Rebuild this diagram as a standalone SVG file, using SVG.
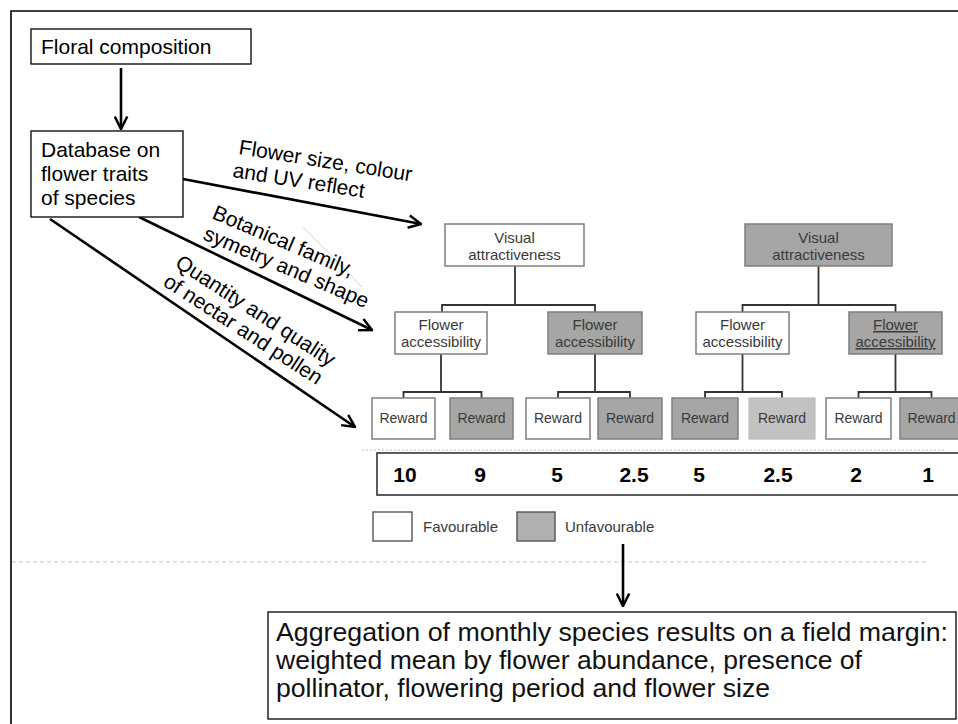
<svg xmlns="http://www.w3.org/2000/svg" width="958" height="724" viewBox="0 0 958 724">
<defs>
<style>
.lbl{font-family:"Liberation Sans",Arial,sans-serif;fill:#000}
.big{font-size:21px}
.agg{font-family:"Liberation Sans Narrow","Liberation Sans",Arial,sans-serif;font-size:25px;fill:#111}
.nd{font-family:"Liberation Sans",Arial,sans-serif;font-size:15px;fill:#3a3a3a;text-anchor:middle}
.rw{font-size:14px}
.num{font-family:"Liberation Sans",Arial,sans-serif;font-size:21px;font-weight:bold;fill:#000;text-anchor:middle}
.w{fill:#fff;stroke:#7f7f7f;stroke-width:1.5}
.g{fill:#a6a6a6;stroke:#7f7f7f;stroke-width:1.5}
.gl{fill:#c2c2c2;stroke:#bdbdbd;stroke-width:1.2}
.box{fill:#fff;stroke:#000;stroke-width:1.3}
.tree{fill:none;stroke:#333;stroke-width:1.8}
.arr{fill:none;stroke:#000;stroke-width:2.6}
</style>
<marker id="ah" viewBox="0 0 12 12" refX="11" refY="6" markerWidth="15" markerHeight="15" markerUnits="userSpaceOnUse" orient="auto">
<path d="M1,1 L11,6 L1,11" fill="none" stroke="#000" stroke-width="2"/>
</marker>
</defs>
<rect width="958" height="724" fill="#fff"/>
<path d="M11,724 V11 H958" fill="none" stroke="#000" stroke-width="1.6"/>
<line x1="12" y1="562" x2="928" y2="562" stroke="#a9cdd3" stroke-width="1" stroke-dasharray="4 3"/>
<line x1="362" y1="450" x2="945" y2="450" stroke="#bdbdbd" stroke-width="1" stroke-dasharray="2 2"/>

<g id="connectors">
<line class="arr" x1="121" y1="68" x2="121" y2="129" marker-end="url(#ah)"/>
<line class="arr" x1="183" y1="179" x2="421" y2="224" marker-end="url(#ah)"/>
<line class="arr" x1="139" y1="217" x2="372" y2="330" marker-end="url(#ah)"/>
<line class="arr" x1="50" y1="219" x2="355" y2="427" marker-end="url(#ah)"/>
<line x1="303" y1="227" x2="362" y2="287" stroke="#d6d6d6" stroke-width="1"/>
<line class="arr" x1="623" y1="544" x2="623" y2="606" stroke-width="2" marker-end="url(#ah)"/>
<path class="tree" d="M515,266 V305 M442,312 V305 H595 V312 M441,354 V392 M403.5,398 V392 H481.5 V398 M595,354 V392 M558,398 V392 H630 V398"/>
<path class="tree" d="M818.5,266 V305 M742.5,312 V305 H895.5 V312 M742.5,354 V392 M705,398 V392 H782 V398 M895.5,354 V392 M858.5,398 V392 H931.5 V398"/>
</g>

<g id="floral">
<rect class="box" x="31" y="29" width="220" height="35"/>
<text class="lbl big" x="41" y="54">Floral composition</text>
</g>
<g id="database">
<rect class="box" x="31" y="131" width="152" height="86"/>
<text class="lbl big" x="41" y="157">Database on</text>
<text class="lbl big" x="41" y="181">flower traits</text>
<text class="lbl big" x="41" y="205">of species</text>
</g>

<g id="labels">
<text class="lbl big" x="238" y="154" transform="rotate(9 238 154)">Flower size, colour</text>
<text class="lbl big" x="232" y="177" transform="rotate(9 232 177)">and UV reflect</text>
<text class="lbl big" x="211" y="218" transform="rotate(23 211 218)">Botanical family,</text>
<text class="lbl big" x="202" y="239" transform="rotate(23 202 239)">symetry and shape</text>
<text class="lbl big" x="174" y="266" transform="rotate(33 174 266)">Quantity and quality</text>
<text class="lbl big" x="162" y="285" transform="rotate(33 162 285)">of nectar and pollen</text>
</g>

<g id="va1">
<rect class="w" x="445" y="224" width="139" height="42"/>
<text class="nd" x="514.5" y="243">Visual</text>
<text class="nd" x="514.5" y="260">attractiveness</text>
</g>
<g id="va2">
<rect class="g" x="745" y="224" width="147" height="42"/>
<text class="nd" x="818.5" y="243">Visual</text>
<text class="nd" x="818.5" y="260">attractiveness</text>
</g>
<g id="fa1">
<rect class="w" x="395" y="312" width="92" height="42"/>
<text class="nd" x="441" y="330">Flower</text>
<text class="nd" x="441" y="347">accessibility</text>
</g>
<g id="fa2">
<rect class="g" x="548" y="312" width="94" height="42"/>
<text class="nd" x="595" y="330">Flower</text>
<text class="nd" x="595" y="347">accessibility</text>
</g>
<g id="fa3">
<rect class="w" x="696" y="312" width="93" height="42"/>
<text class="nd" x="742.5" y="330">Flower</text>
<text class="nd" x="742.5" y="347">accessibility</text>
</g>
<g id="fa4">
<rect class="g" x="849" y="312" width="93" height="42"/>
<text class="nd" x="895.5" y="330" text-decoration="underline">Flower</text>
<text class="nd" x="895.5" y="347" text-decoration="underline">accessibility</text>
</g>

<g id="r1"><rect class="w" x="372" y="398" width="63" height="41"/><text class="nd rw" x="403.5" y="423">Reward</text></g>
<g id="r2"><rect class="g" x="450" y="398" width="63" height="41"/><text class="nd rw" x="481.5" y="423">Reward</text></g>
<g id="r3"><rect class="w" x="526" y="398" width="64" height="41"/><text class="nd rw" x="558" y="423">Reward</text></g>
<g id="r4"><rect class="g" x="598" y="398" width="64" height="41"/><text class="nd rw" x="630" y="423">Reward</text></g>
<g id="r5"><rect class="g" x="672" y="398" width="66" height="41"/><text class="nd rw" x="705" y="423">Reward</text></g>
<g id="r6"><rect class="gl" x="749" y="398" width="66" height="41"/><text class="nd rw" x="782" y="423">Reward</text></g>
<g id="r7"><rect class="w" x="826" y="398" width="65" height="41"/><text class="nd rw" x="858.5" y="423">Reward</text></g>
<g id="r8"><rect class="g" x="900" y="398" width="63" height="41"/><text class="nd rw" x="931.5" y="423">Reward</text></g>

<g id="values">
<rect x="377" y="453" width="600" height="42" fill="#fff" stroke="#333" stroke-width="1.6"/>
<text class="num" x="405" y="482">10</text>
<text class="num" x="480" y="482">9</text>
<text class="num" x="557" y="482">5</text>
<text class="num" x="634" y="482">2.5</text>
<text class="num" x="699" y="482">5</text>
<text class="num" x="778" y="482">2.5</text>
<text class="num" x="856" y="482">2</text>
<text class="num" x="928" y="482">1</text>
</g>

<g id="legend">
<rect x="373" y="512" width="39" height="29" fill="#fff" stroke="#555" stroke-width="1.4"/>
<text class="nd" x="423" y="532" style="text-anchor:start">Favourable</text>
<rect x="517" y="512" width="38" height="29" fill="#b0b0b0" stroke="#555" stroke-width="1.4"/>
<text class="nd" x="565" y="532" style="text-anchor:start">Unfavourable</text>
</g>

<g id="aggregation">
<rect class="box" x="268" y="612" width="688" height="107"/>
<text class="agg" x="276" y="641" textLength="672" lengthAdjust="spacingAndGlyphs">Aggregation of monthly species results on a field margin:</text>
<text class="agg" x="276" y="669" textLength="586" lengthAdjust="spacingAndGlyphs">weighted mean by flower abundance, presence of</text>
<text class="agg" x="276" y="697" textLength="494" lengthAdjust="spacingAndGlyphs">pollinator, flowering period and flower size</text>
</g>
</svg>
